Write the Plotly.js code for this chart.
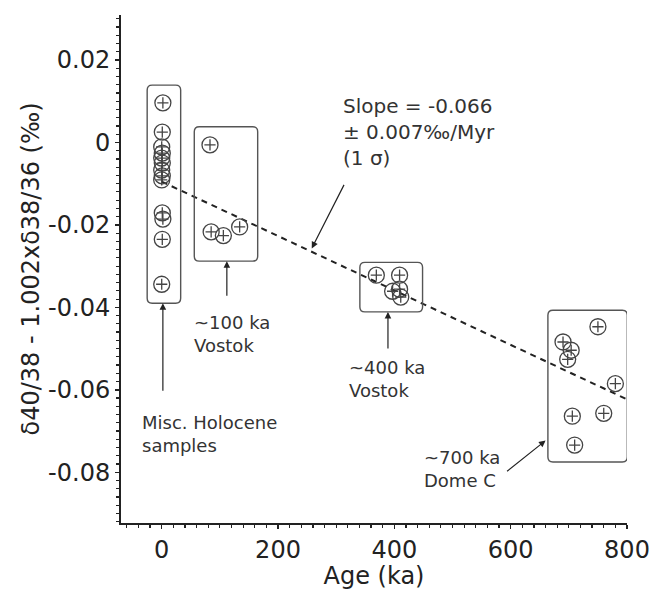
<!DOCTYPE html>
<html>
<head>
<meta charset="utf-8">
<script src="https://cdn.plot.ly/plotly-3.0.1.min.js"></script>
<style>html,body{margin:0;padding:0;background:#fff;}#chart{width:654px;height:590px;}</style>
</head>
<body>
<div id="chart"></div>
<script>
// ---- data (age in ka, value in per mil) ----
const holoceneAge = [2, 1, 0, 1, 0, 1, 0, 1, 0, 1, 2, 1, 0];
const holoceneVal = [0.0096, 0.0025, -0.0011, -0.0026, -0.0038, -0.0050, -0.0067, -0.0081, -0.0091, -0.0171, -0.0186, -0.0235, -0.0344];
const vostok100Age = [83, 85, 106, 134];
const vostok100Val = [-0.0006, -0.0217, -0.0226, -0.0205];
const vostok400Age = [369, 409, 397, 409, 411];
const vostok400Val = [-0.0322, -0.0322, -0.0361, -0.0356, -0.0375];
const domeCAge = [750, 690, 704, 698, 780, 706, 760, 710];
const domeCVal = [-0.0447, -0.0484, -0.0504, -0.0526, -0.0585, -0.0664, -0.0657, -0.0734];
const fitAge = [0, 800];
const fitVal = [-0.0095, -0.0623];
const yTickVals = [0.02, 0, -0.02, -0.04, -0.06, -0.08];
const yTickText = ['0.02', '0', '-0.02', '-0.04', '-0.06', '-0.08'];
const xTickVals = [0, 200, 400, 600, 800];
const xTickText = ['0', '200', '400', '600', '800'];

const FONT = 'DejaVu Sans, Verdana, sans-serif';
const INK = '#222';
const MK = '#444';

const groups = [
  [holoceneAge, holoceneVal],
  [vostok100Age, vostok100Val],
  [vostok400Age, vostok400Val],
  [domeCAge, domeCVal]
];
const traces = [];
traces.push({
  x: fitAge, y: fitVal, type: 'scatter', mode: 'lines',
  line: {color: INK, width: 2, dash: '6px,5px'}, hoverinfo: 'skip', showlegend: false
});
groups.forEach(g => {
  traces.push({x: g[0], y: g[1], type: 'scatter', mode: 'markers', showlegend: false,
    marker: {symbol: 'circle-open', size: 16, color: MK, line: {width: 1.3, color: MK}}});
  traces.push({x: g[0], y: g[1], type: 'scatter', mode: 'markers', showlegend: false, hoverinfo: 'skip',
    marker: {symbol: 'cross-thin-open', size: 8, color: MK, line: {width: 1.3, color: MK}}});
});

// rounded rectangle path in data coords
const RX = 8.6, RY = 0.0012;
function rrect(x0, x1, y0, y1) {
  // y0 bottom, y1 top
  return 'M' + (x0 + RX) + ',' + y1 +
    ' L' + (x1 - RX) + ',' + y1 +
    ' Q' + x1 + ',' + y1 + ' ' + x1 + ',' + (y1 - RY) +
    ' L' + x1 + ',' + (y0 + RY) +
    ' Q' + x1 + ',' + y0 + ' ' + (x1 - RX) + ',' + y0 +
    ' L' + (x0 + RX) + ',' + y0 +
    ' Q' + x0 + ',' + y0 + ' ' + x0 + ',' + (y0 + RY) +
    ' L' + x0 + ',' + (y1 - RY) +
    ' Q' + x0 + ',' + y1 + ' ' + (x0 + RX) + ',' + y1 + ' Z';
}
const boxLine = {color: '#555', width: 1.4};
const shapes = [
  {type: 'path', xref: 'x', yref: 'y', path: rrect(-25, 32.6, -0.0390, 0.0139), line: boxLine},
  {type: 'path', xref: 'x', yref: 'y', path: rrect(56, 165, -0.0288, 0.0038), line: boxLine},
  {type: 'path', xref: 'x', yref: 'y', path: rrect(340.7, 448.5, -0.0411, -0.0291), line: boxLine},
  {type: 'path', xref: 'x', yref: 'y', path: rrect(664, 800.5, -0.0775, -0.0407), line: boxLine}
];

function arrow(x, y, ax, ay) {
  return {x: x, y: y, xref: 'x', yref: 'y', text: '', showarrow: true, ax: ax, ay: ay,
    arrowhead: 2, arrowsize: 1.1, arrowwidth: 1.2, arrowcolor: INK, standoff: 0, startstandoff: 0};
}
function label(x, y, txt, size) {
  return {x: x, y: y, xref: 'x', yref: 'y', text: txt, showarrow: false,
    xanchor: 'left', yanchor: 'middle', align: 'left',
    font: {family: FONT, size: size, color: '#333'}};
}
const annotations = [
  arrow(2, -0.0390, 0, 89),
  arrow(112, -0.0288, 0, 36),
  arrow(389, -0.0411, 0, 38),
  arrow(660, -0.0723, -40, 32),
  arrow(258, -0.0257, 33, -65),
  label(-37.3, -0.0706, 'Misc. Holocene<br>samples', 18),
  label(51.5, -0.0464, '~100 ka<br>Vostok', 18),
  label(318, -0.0573, '~400 ka<br>Vostok', 18),
  label(447, -0.0791, '~700 ka<br>Dome C', 18),
  label(309, 0.0025, 'Slope = -0.066<br>± 0.007‰/Myr<br>(1 σ)', 20)
];

const XR = [-70, 800], YR = [-0.0923, 0.0309];
const NB = '\u00A0';
const layout = {
  width: 654, height: 590,
  margin: {l: 121, r: 27, t: 15, b: 67},
  paper_bgcolor: '#fff', plot_bgcolor: '#fff',
  font: {family: FONT, color: INK},
  showlegend: false,
  xaxis: {
    range: XR, showgrid: false, zeroline: false, showline: true, linecolor: INK, linewidth: 2,
    tickmode: 'array', tickvals: xTickVals, ticktext: xTickText,
    ticks: 'outside', ticklen: 4, tickwidth: 1.5, tickcolor: INK,
    tickfont: {family: FONT, size: 24, color: INK},
    minor: {tickmode: 'linear', tick0: 0, dtick: 20, ticks: 'outside', ticklen: 3, tickwidth: 1.2, tickcolor: INK},
    title: {text: NB.repeat(5) + 'Age (ka)', font: {family: FONT, size: 24, color: INK}, standoff: 4}
  },
  yaxis: {
    range: YR, showgrid: false, zeroline: false, showline: true, linecolor: INK, linewidth: 2,
    tickmode: 'array', tickvals: yTickVals, ticktext: yTickText,
    ticks: 'outside', ticklen: 4, tickwidth: 1.5, tickcolor: INK,
    tickfont: {family: FONT, size: 24, color: INK},
    minor: {tickmode: 'linear', tick0: 0, dtick: 0.002, ticks: 'outside', ticklen: 3, tickwidth: 1.2, tickcolor: INK},
    title: {text: NB.repeat(3) + 'δ40/38 - 1.002xδ38/36 (‰)', font: {family: FONT, size: 24, color: INK}, standoff: 2}
  },
  xaxis2: {
    overlaying: 'x', anchor: 'y', side: 'bottom', range: XR, showgrid: false, zeroline: false,
    showline: false, showticklabels: false, tickmode: 'array', tickvals: xTickVals,
    ticks: 'inside', ticklen: 4, tickwidth: 1.5, tickcolor: INK,
    minor: {tickmode: 'linear', tick0: 0, dtick: 20, ticks: 'inside', ticklen: 3, tickwidth: 1.2, tickcolor: INK}
  },
  yaxis2: {
    overlaying: 'y', anchor: 'x', side: 'left', range: YR, showgrid: false, zeroline: false,
    showline: false, showticklabels: false, tickmode: 'array', tickvals: yTickVals,
    ticks: 'inside', ticklen: 4, tickwidth: 1.5, tickcolor: INK,
    minor: {tickmode: 'linear', tick0: 0, dtick: 0.002, ticks: 'inside', ticklen: 3, tickwidth: 1.2, tickcolor: INK}
  },
  shapes: shapes,
  annotations: annotations
};
Plotly.newPlot('chart', traces, layout, {staticPlot: true, displayModeBar: false});
</script>
</body>
</html>
